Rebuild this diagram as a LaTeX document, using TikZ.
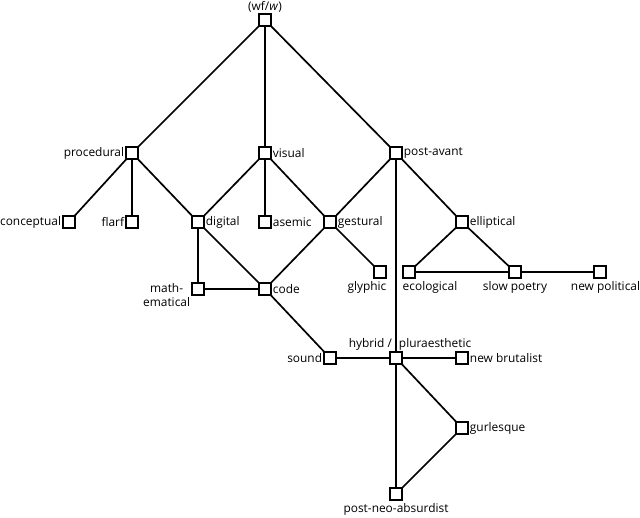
\documentclass[tikz,border=0pt]{standalone}
\usepackage{fontspec}
\setmainfont{Open Sans}
\begin{document}
\begin{tikzpicture}[x=1pt,y=-1pt,
  sq/.style={draw=black,line width=1.8pt,fill=white,minimum size=11.5pt,inner sep=0pt,outer sep=0pt},
  lbl/.style={font=\fontsize{11.9}{13.5}\selectfont,inner sep=1pt,label distance=1pt},
  lblb/.style={lbl,label distance=3pt},
  edge/.style={line width=1.7pt,black}]
\path[use as bounding box] (0,0) rectangle (640,517);
\node[sq,label={[lbl]above:(wf/\textit{w})}] (wf) at (265,20) {};
\node[sq,label={[lbl]left:procedural}] (proc) at (132,153) {};
\node[sq,label={[lbl]right:visual}] (vis) at (265,153) {};
\node[sq,label={[lbl]right:post-avant}] (pa) at (396,153) {};
\node[sq,label={[lbl]left:conceptual}] (conc) at (69,222) {};
\node[sq,label={[lbl]left:flarf}] (flarf) at (132,222) {};
\node[sq,label={[lbl]right:digital}] (dig) at (198,222) {};
\node[sq,label={[lbl]right:asemic}] (asem) at (265,222) {};
\node[sq,label={[lbl]right:gestural}] (gest) at (330,222) {};
\node[sq,label={[lbl]right:elliptical}] (ell) at (462,222) {};
\node[sq,label={[lblb,xshift=-13pt]below:glyphic}] (gly) at (380,272) {};
\node[sq,label={[lblb,xshift=21pt]below:ecological}] (eco) at (409,272) {};
\node[sq,label={[lblb]below:slow poetry}] (slow) at (515,272) {};
\node[sq,label={[lblb,xshift=5.5pt]below:new political}] (newpol) at (600,272) {};
\node[sq,label={[lbl,align=center,yshift=-6pt]left:math-\\ematical}] (math) at (198,289) {};
\node[sq,label={[lbl]right:code}] (code) at (265,289) {};
\node[sq,label={[lbl]left:sound}] (sound) at (330,358) {};
\node[sq,label={[lbl,xshift=14pt]above:hybrid /\hspace{7pt}pluraesthetic}] (hyb) at (396,358) {};
\node[sq,label={[lbl]right:new brutalist}] (nb) at (462,358) {};
\node[sq,label={[lbl]right:gurlesque}] (gurl) at (462,428) {};
\node[sq,label={[lblb]below:post-neo-absurdist}] (pna) at (396,494) {};
\draw[edge] (wf) -- (proc);
\draw[edge] (wf) -- (vis);
\draw[edge] (wf) -- (pa);
\draw[edge] (proc) -- (conc);
\draw[edge] (proc) -- (flarf);
\draw[edge] (proc) -- (dig);
\draw[edge] (vis) -- (dig);
\draw[edge] (vis) -- (asem);
\draw[edge] (vis) -- (gest);
\draw[edge] (pa) -- (gest);
\draw[edge] (pa) -- (ell);
\draw[edge] (pa) -- (hyb);
\draw[edge] (dig) -- (math);
\draw[edge] (dig) -- (code);
\draw[edge] (gest) -- (code);
\draw[edge] (gest) -- (gly);
\draw[edge] (math) -- (code);
\draw[edge] (ell) -- (eco);
\draw[edge] (ell) -- (slow);
\draw[edge] (eco) -- (slow);
\draw[edge] (slow) -- (newpol);
\draw[edge] (code) -- (sound);
\draw[edge] (sound) -- (hyb);
\draw[edge] (hyb) -- (nb);
\draw[edge] (hyb) -- (gurl);
\draw[edge] (hyb) -- (pna);
\draw[edge] (gurl) -- (pna);
\end{tikzpicture}
\end{document}
